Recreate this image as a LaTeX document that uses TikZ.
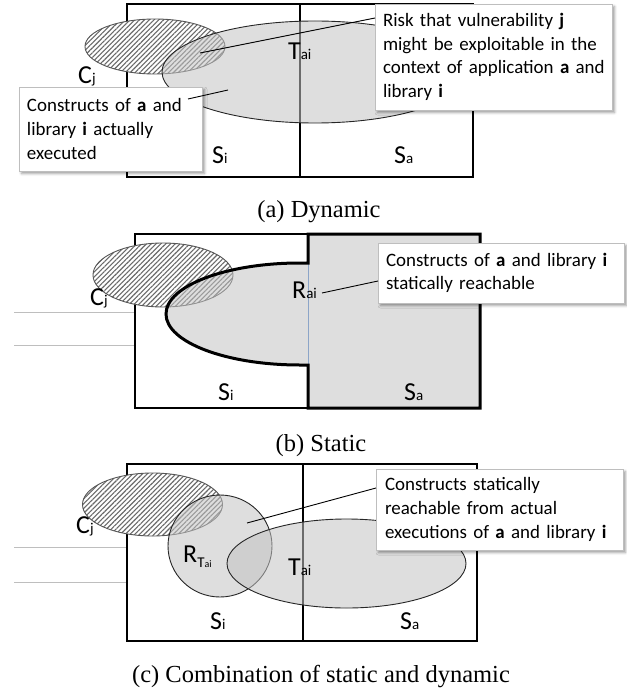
\documentclass[tikz,border=0pt]{standalone}
\usepackage{fontspec}
\setmainfont{Liberation Serif}
\newfontfamily\carl{Carlito}
\usetikzlibrary{patterns.meta,shadows.blur}
\definecolor{fillgray}{RGB}{195,195,195}
\definecolor{hatchcol}{RGB}{105,105,105}
\definecolor{edgegray}{RGB}{85,85,85}
\definecolor{boxedge}{RGB}{190,190,190}
\definecolor{bluish}{RGB}{140,165,200}
\definecolor{leftline}{RGB}{190,190,190}
\newcommand\smallsub[1]{{\fontsize{15}{15}\selectfont #1}}
\tikzset{
  frame/.style={draw=black, line width=1.3bp},
  cset/.style={preaction={fill=white}, pattern={Lines[angle=45,distance=3.4bp,line width=1.1bp]}, pattern color=hatchcol, draw=edgegray, line width=0.9bp},
  region/.style={fill=fillgray, fill opacity=0.55, draw=black!85, line width=0.9bp},
  callout/.style={draw=boxedge, line width=0.6bp, fill=white, blur shadow={shadow xshift=2.5bp, shadow yshift=-2.5bp, shadow blur radius=2.5bp}, align=left, font=\carl\fontsize{19}{23.8}\selectfont},
  pointer/.style={draw=black, line width=0.9bp},
  setlabel/.style={anchor=base west, inner sep=0pt, font=\carl\fontsize{26}{26}\selectfont},
  caption/.style={font=\fontsize{24.6}{26}\selectfont, inner sep=0pt},
  thickedge/.style={draw=black, line width=3bp, line join=miter},
}
\begin{document}
\begin{tikzpicture}[x=1bp,y=-1bp]
\useasboundingbox (0,0) rectangle (627,698);
% ---------------- (a) Dynamic ----------------
\draw[frame] (127,4) rectangle (473,177);
\draw[frame] (300,4) -- (300,177);
\path[cset] (155,46.5) ellipse [x radius=70bp, y radius=27.5bp];
\path[region] (315,72) ellipse [x radius=153bp, y radius=51bp];
\node[setlabel] (cja) at (78,84) {C\smallsub{j}};
\node[setlabel] (tai) at (288,60) {T\smallsub{ai}};
\node[setlabel] (sia) at (212,163) {S\smallsub{i}};
\node[setlabel] (saa) at (394,163) {S\smallsub{a}};
\node[callout, text width=167bp, inner xsep=8bp, minimum height=84bp] (boxal) at (110.5,129)
  {\mbox{Constructs of \textbf{a} and}\\\mbox{library \textbf{i} actually}\\\mbox{executed}};
\node[callout, text width=221bp, inner xsep=8bp, minimum height=106bp] (boxar) at (493.5,57)
  {\mbox{Risk that vulnerability \textbf{j}}\\\mbox{might be exploitable in the}\\\mbox{context of application \textbf{a} and}\\\mbox{library \textbf{i}}};
\coordinate (pal1) at (188,99);
\coordinate (pal2) at (228,90);
\draw[pointer] (pal1) -- (pal2);
\coordinate (par1) at (375,18);
\coordinate (par2) at (200,53);
\draw[pointer] (par1) -- (par2);
\node[caption] (capa) at (319,212) {(a) Dynamic};
% ---------------- (b) Static ----------------
\draw[leftline, line width=0.8bp] (14,312) -- (135,312);
\draw[leftline, line width=0.8bp] (14,345) -- (135,345);
\draw[frame] (308,234) -- (135,234) -- (135,408) -- (308,408);
\path[cset] (163,275) ellipse [x radius=70bp, y radius=32bp];
\path[fill=fillgray, fill opacity=0.55] (308,234) -- (480,234) -- (480,408) -- (308,408) -- (308,365) -- (300,365)
  arc[start angle=270, end angle=90, x radius=134bp, y radius=51bp] -- (308,263) -- cycle;
\draw[bluish, line width=0.9bp] (308,263) -- (308,365);
\draw[thickedge] (308,234) -- (480,234) -- (480,408) -- (308,408) -- (308,365) -- (300,365)
  arc[start angle=270, end angle=90, x radius=134bp, y radius=51bp] -- (308,263) -- cycle;
\node[setlabel] (cjb) at (90,305) {C\smallsub{j}};
\node[setlabel] (rai) at (292,298) {R\smallsub{ai}};
\node[setlabel] (sib) at (218,400) {S\smallsub{i}};
\node[setlabel] (sab) at (404,400) {S\smallsub{a}};
\node[callout, text width=230bp, inner xsep=8bp, minimum height=60bp] (boxb) at (501,273)
  {\mbox{Constructs of \textbf{a} and library \textbf{i}}\\\mbox{statically reachable}};
\coordinate (pb1) at (322,293);
\coordinate (pb2) at (378,281);
\draw[pointer] (pb1) -- (pb2);
\node[caption] (capb) at (321,446) {(b) Static};
% ---------------- (c) Combination ----------------
\draw[leftline, line width=0.8bp] (14,547) -- (127,547);
\draw[leftline, line width=0.8bp] (14,582) -- (127,582);
\draw[frame] (127,464) rectangle (477,641);
\draw[frame] (303,464) -- (303,641);
\path[cset] (152.5,504.5) ellipse [x radius=70bp, y radius=31.5bp];
\path[region] (220,546) ellipse [x radius=52bp, y radius=51bp];
\path[region] (346.5,563.5) ellipse [x radius=119.5bp, y radius=44.5bp];
\node[setlabel] (cjc) at (76,533) {C\smallsub{j}};
\node[setlabel] (rtc) at (183,562) {R\raisebox{-5bp}{\fontsize{15}{15}\selectfont T\fontsize{10}{10}\selectfont ai}};
\node[setlabel] (tcc) at (288,575) {T\smallsub{ai}};
\node[setlabel] (sic) at (210,629) {S\smallsub{i}};
\node[setlabel] (sac) at (400,629) {S\smallsub{a}};
\node[callout, text width=229bp, inner xsep=9bp, minimum height=81bp] (boxc) at (499.5,509.5)
  {\mbox{Constructs statically}\\\mbox{reachable from actual}\\\mbox{executions of \textbf{a} and library \textbf{i}}};
\coordinate (pc1) at (247,523);
\coordinate (pc2) at (376,488);
\draw[pointer] (pc1) -- (pc2);
\node[caption] (capc) at (321,677) {(c) Combination of static and dynamic};
\end{tikzpicture}
\end{document}
